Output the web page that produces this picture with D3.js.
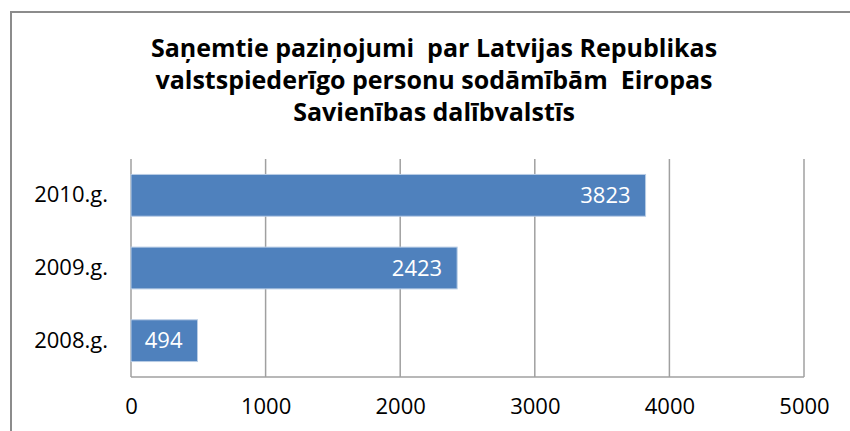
<!DOCTYPE html>
<html>
<head>
<meta charset="utf-8">
<script src="https://cdn.jsdelivr.net/npm/d3@7"></script>
<style>
    body { margin: 0; background: #fff; }
    text { font-family: "Open Sans", sans-serif; }
</style>
</head>
<body>
<div id="chart"></div>
<script>
const categories = ['2010.g.', '2009.g.', '2008.g.']
const values = [3823, 2423, 494]
const xTicks = [0, 1000, 2000, 3000, 4000, 5000]
const titleLines = [
    'Saņemtie paziņojumi  par Latvijas Republikas',
    'valstspiederīgo personu sodāmībām  Eiropas',
    'Savienības dalībvalstīs'
]

let dimensions = {
    width: 850,
    height: 431,
    margin: {
        top: 159,
        right: 46,
        bottom: 54,
        left: 131,
    },
}
dimensions.boundedWidth = dimensions.width - dimensions.margin.left - dimensions.margin.right
dimensions.boundedHeight = dimensions.height - dimensions.margin.top - dimensions.margin.bottom

const svg = d3.select('#chart')
    .append('svg')
    .attr('width', dimensions.width)
    .attr('height', dimensions.height)

// chart area frame (runs off the right side)
svg.append('rect')
    .attr('x', 11)
    .attr('y', 12)
    .attr('width', 900)
    .attr('height', 500)
    .attr('fill', 'none')
    .attr('stroke', '#8c8c8c')
    .attr('stroke-width', 2)

const title = svg.append('text')
    .attr('text-anchor', 'middle')
    .style('font-weight', 'bold')
    .style('font-size', '25px')
    .style('white-space', 'pre')
    .attr('fill', '#000')
title.selectAll('tspan')
    .data(titleLines)
    .enter().append('tspan')
    .attr('x', 434)
    .attr('y', (d, i) => 57 + i * 32)
    .text(d => d)

const bounds = svg.append('g')
    .attr('transform', `translate(${dimensions.margin.left}, ${dimensions.margin.top})`)

const xScale = d3.scaleLinear()
    .domain([0, 5000])
    .range([0, dimensions.boundedWidth])

const yScale = d3.scaleBand()
    .domain(categories)
    .range([0, dimensions.boundedHeight])
    .paddingInner(0.425)
    .paddingOuter(0.2125)

// gridlines
bounds.selectAll('.grid')
    .data(xTicks)
    .enter().append('line')
    .attr('class', 'grid')
    .attr('x1', d => xScale(d))
    .attr('x2', d => xScale(d))
    .attr('y1', 0)
    .attr('y2', dimensions.boundedHeight)
    .attr('stroke', '#a0a0a0')
    .attr('stroke-width', 1.5)

bounds.append('line')
    .attr('x1', 0)
    .attr('x2', dimensions.boundedWidth)
    .attr('y1', dimensions.boundedHeight)
    .attr('y2', dimensions.boundedHeight)
    .attr('stroke', '#a0a0a0')
    .attr('stroke-width', 1.5)

const bars = bounds.selectAll('.bar')
    .data(values)
    .enter().append('rect')
    .attr('class', 'bar')
    .attr('x', xScale(0))
    .attr('y', (d, i) => yScale(categories[i]))
    .attr('width', d => xScale(d) - xScale(0))
    .attr('height', yScale.bandwidth())
    .attr('fill', '#4f81bd')
    .attr('stroke', '#b9cde5')
    .attr('stroke-width', 1)

bounds.selectAll('.bar-label')
    .data(values)
    .enter().append('text')
    .attr('class', 'bar-label')
    .attr('x', d => xScale(d) - 15)
    .attr('y', (d, i) => yScale(categories[i]) + yScale.bandwidth() / 2)
    .attr('dy', '0.35em')
    .attr('text-anchor', 'end')
    .attr('fill', '#fff')
    .style('font-size', '22px')
    .text(d => d)

// y axis labels
const yAxis = d3.axisLeft(yScale).tickSize(0).tickPadding(23)
bounds.append('g')
    .call(yAxis)
    .call(g => g.select('.domain').remove())
    .selectAll('text')
    .style('font-size', '22px')
    .style('font-family', '"Open Sans", sans-serif')
    .attr('fill', '#000')

// x axis labels
const xAxis = d3.axisBottom(xScale)
    .tickValues(xTicks)
    .tickFormat(d3.format('d'))
    .tickSize(0)
    .tickPadding(21)
bounds.append('g')
    .attr('transform', `translate(0, ${dimensions.boundedHeight})`)
    .call(xAxis)
    .call(g => g.select('.domain').remove())
    .selectAll('text')
    .style('font-size', '22px')
    .style('font-family', '"Open Sans", sans-serif')
    .attr('fill', '#000')
</script>
</body>
</html>
